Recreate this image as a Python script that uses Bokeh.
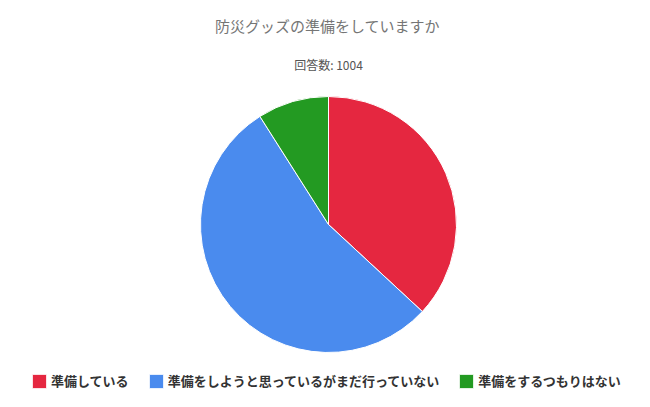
import math
from bokeh.plotting import figure
from bokeh.models import ColumnDataSource, Range1d, Label
from bokeh.embed import file_html
from bokeh.resources import INLINE

# --- data ---
title_text = "防災グッズの準備をしていますか"
subtitle_text = "回答数: 1004"
categories = ["準備している", "準備をしようと思っているがまだ行っていない", "準備をするつもりはない"]
values = [36.9, 54.1, 9.0]
colors = ["#E52740", "#4A8BEE", "#239A22"]

W, H = 634, 391
cx, cy, r = 328, H - 224, 128

total = sum(values)
starts, ends = [], []
acc = 0.0
for v in values:
    starts.append(math.pi / 2 - 2 * math.pi * acc / total)
    acc += v
    ends.append(math.pi / 2 - 2 * math.pi * acc / total)

src = ColumnDataSource(dict(label=categories, value=values, color=colors,
                            start=starts, end=ends))

p = figure(width=W, height=H, output_backend="svg", toolbar_location=None,
           x_range=Range1d(0, W), y_range=Range1d(0, H), min_border=0)
p.axis.visible = False
p.grid.visible = False
p.outline_line_color = None
p.background_fill_color = "white"
p.border_fill_color = "white"

p.wedge(x=cx, y=cy, radius=r, start_angle="start", end_angle="end",
        direction="clock", fill_color="color", line_color="white",
        line_width=1, source=src, legend_field="label")

FONT = "Noto Sans CJK JP"
p.add_layout(Label(x=327, y=H - 25, x_units="screen", y_units="screen",
                   text=title_text, text_align="center", text_baseline="middle",
                   text_font=FONT, text_font_size="15px", text_color="#757575"))
p.add_layout(Label(x=328, y=H - 64, x_units="screen", y_units="screen",
                   text=subtitle_text, text_align="center", text_baseline="middle",
                   text_font=FONT, text_font_size="12px", text_color="#555555"))

p.legend.orientation = "horizontal"
p.legend.location = (30, 1)
p.legend.glyph_width = 18
p.legend.glyph_height = 18
p.legend.label_height = 18
p.legend.label_text_font = FONT
p.legend.label_text_font_size = "13px"
p.legend.label_text_font_style = "bold"
p.legend.label_text_color = "#333333"
p.legend.label_standoff = 3
p.legend.spacing = 18
p.legend.padding = 0
p.legend.margin = 0
p.legend.border_line_color = None
p.legend.background_fill_alpha = 0

open("out.html", "w").write(file_html(p, INLINE))
